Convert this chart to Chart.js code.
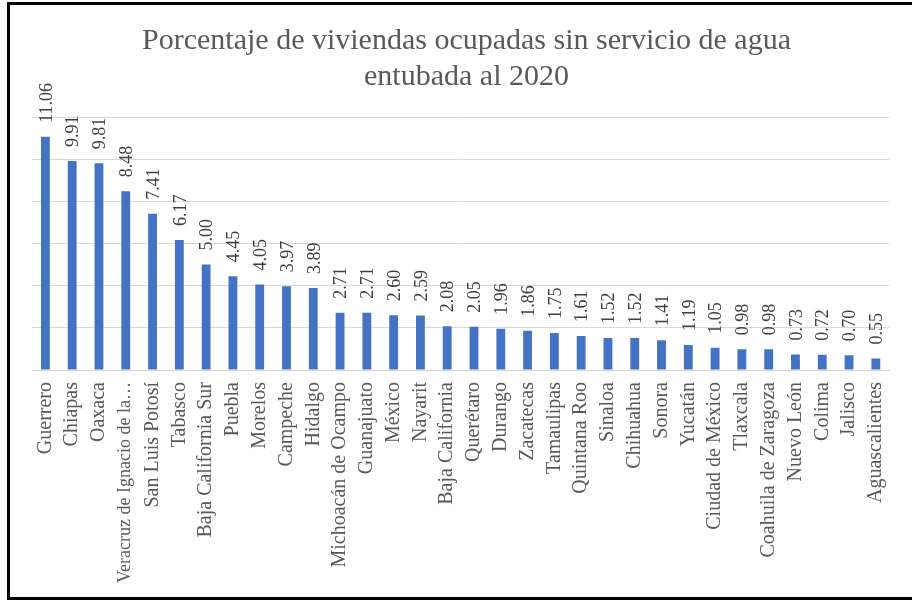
<!DOCTYPE html>
<html>
<head>
<meta charset="utf-8">
<script src="https://cdn.jsdelivr.net/npm/chart.js@4"></script>
<style>
  html, body { margin: 0; padding: 0; background: #fff; }
  #wrap { position: relative; width: 912px; height: 600px; overflow: hidden; }
  #frame { position: absolute; left: 7px; top: 2px; width: 1000px; height: 598px; box-sizing: border-box;
           border-left: 3px solid #000; border-top: 3px solid #000; border-bottom: 3px solid #000; pointer-events: none; }
</style>
</head>
<body>
<div id="wrap">
  <canvas id="c" width="912" height="600"></canvas>
  <div id="frame"></div>
</div>
<script>
const titleLines = ["Porcentaje de viviendas ocupadas sin servicio de agua", "entubada al 2020"];
const states = ["Guerrero", "Chiapas", "Oaxaca", "Veracruz de Ignacio de la…", "San Luis Potosí", "Tabasco",
  "Baja California Sur", "Puebla", "Morelos", "Campeche", "Hidalgo", "Michoacán de Ocampo", "Guanajuato",
  "México", "Nayarit", "Baja California", "Querétaro", "Durango", "Zacatecas", "Tamaulipas", "Quintana Roo",
  "Sinaloa", "Chihuahua", "Sonora", "Yucatán", "Ciudad de México", "Tlaxcala", "Coahuila de Zaragoza",
  "Nuevo León", "Colima", "Jalisco", "Aguascalientes"];
const percentages = [11.06, 9.91, 9.81, 8.48, 7.41, 6.17, 5.00, 4.45, 4.05, 3.97, 3.89, 2.71, 2.71, 2.60, 2.59,
  2.08, 2.05, 1.96, 1.86, 1.75, 1.61, 1.52, 1.52, 1.41, 1.19, 1.05, 0.98, 0.98, 0.73, 0.72, 0.70, 0.55];

const serif = "'Liberation Serif', 'Times New Roman', serif";

const valueLabels = {
  id: 'valueLabels',
  afterDatasetsDraw(chart) {
    const ctx = chart.ctx;
    const meta = chart.getDatasetMeta(0);
    ctx.save();
    ctx.fillStyle = '#404040';
    ctx.font = '18px ' + serif;
    ctx.textAlign = 'left';
    ctx.textBaseline = 'middle';
    meta.data.forEach((bar, i) => {
      ctx.save();
      ctx.translate(bar.x + 1.5, bar.y - 14);
      ctx.rotate(-Math.PI / 2);
      ctx.fillText(percentages[i].toFixed(2), 0, 0);
      ctx.restore();
    });
    ctx.restore();
  }
};

new Chart(document.getElementById('c'), {
  type: 'bar',
  data: {
    labels: states,
    datasets: [{
      data: percentages,
      backgroundColor: '#4472C4',
      borderWidth: 0,
      barPercentage: 0.33,
      categoryPercentage: 1.0
    }]
  },
  options: {
    responsive: false,
    animation: false,
    devicePixelRatio: 1,
    layout: { padding: { left: 32, right: 11, top: 0, bottom: 0 } },
    plugins: {
      legend: { display: false },
      tooltip: { enabled: false },
      title: {
        display: true,
        text: titleLines,
        color: '#595959',
        font: { family: serif, size: 30, weight: 'normal', lineHeight: 1.2 },
        padding: { top: 23, bottom: 22 }
      }
    },
    scales: {
      x: {
        grid: { display: false, drawTicks: false },
        border: { display: true, color: '#d9d9d9', width: 1 },
        ticks: {
          autoSkip: false, maxRotation: 90, minRotation: 90, padding: 12,
          color: '#595959',
          font: (c) => ({ family: serif, size: c.index === 3 ? 18 : 20 })
        },
        afterFit(scale) { scale.height = 230; }
      },
      y: {
        min: 0, max: 12,
        ticks: { display: false, stepSize: 2 },
        grid: { color: '#d9d9d9', drawTicks: false, lineWidth: 1 },
        border: { display: false },
        afterFit(scale) { scale.width = 0; }
      }
    }
  },
  plugins: [valueLabels]
});
</script>
</body>
</html>
